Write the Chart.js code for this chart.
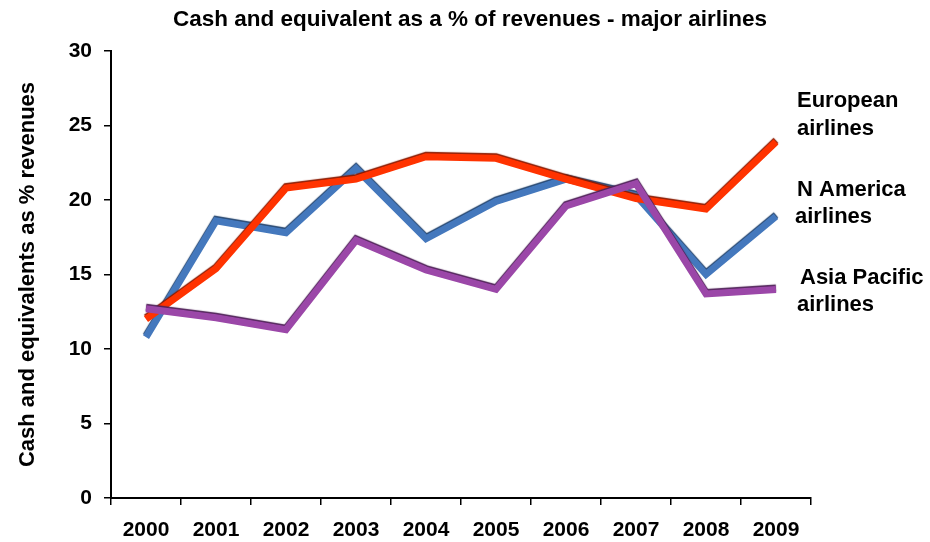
<!DOCTYPE html>
<html>
<head>
<meta charset="utf-8">
<script src="https://cdn.jsdelivr.net/npm/chart.js@4.4.1/dist/chart.umd.min.js"></script>
<style>
  html, body { margin: 0; padding: 0; background: #fff; }
  #wrap { width: 930px; height: 542px; }
</style>
</head>
<body>
<div id="wrap"><canvas id="airlineChart" width="930" height="542"></canvas></div>
<script>
const years = ['2000', '2001', '2002', '2003', '2004', '2005', '2006', '2007', '2008', '2009'];
const nAmerica = [10.8, 18.6, 17.8, 22.1, 17.4, 19.9, 21.4, 20.3, 15.0, 18.9];
const european = [12.0, 15.4, 20.8, 21.4, 22.9, 22.8, 21.4, 20.1, 19.4, 23.9];
const asiaPacific = [12.7, 12.1, 11.3, 17.3, 15.3, 14.0, 19.6, 21.1, 13.7, 14.0];
const yTicks = [0, 5, 10, 15, 20, 25, 30];

const FONT = "'Liberation Sans', Arial, sans-serif";
const TITLE = 'Cash and equivalent as a % of revenues - major airlines';

// excel-ish bevel: dark edge on top of each thick line
const edgePlugin = {
    id: 'edge',
    beforeDatasetDraw(chart, args) {
        const ds = chart.data.datasets[args.index];
        const ctx = chart.ctx;
        ctx.save();
        ctx.shadowColor = ds.edgeColor;
        ctx.shadowOffsetX = 0;
        ctx.shadowOffsetY = -1.5;
        ctx.shadowBlur = 1;
    },
    afterDatasetDraw(chart) {
        chart.ctx.restore();
    }
};

// title (centred like the original, not over the padded box) and series names at the right
const textPlugin = {
    id: 'texts',
    afterDraw(chart) {
        const ctx = chart.ctx;
        ctx.save();
        ctx.fillStyle = '#000';
        ctx.font = 'bold 22.5px ' + FONT;
        ctx.textBaseline = 'middle';
        ctx.textAlign = 'center';
        ctx.fillText(TITLE, 470, 20);

        ctx.font = 'bold 22px ' + FONT;
        ctx.textBaseline = 'alphabetic';
        ctx.textAlign = 'left';
        ctx.fillText('European', 797, 107);
        ctx.fillText('airlines', 797, 135);
        ctx.fillText('N America', 797, 196);
        ctx.fillText('airlines', 795, 223);
        ctx.fillText('Asia Pacific', 800, 284);
        ctx.fillText('airlines', 797, 311);
        ctx.restore();
    }
};

const ctx = document.getElementById('airlineChart').getContext('2d');
new Chart(ctx, {
    type: 'line',
    data: {
        labels: years,
        datasets: [
            {
                label: 'N America airlines',
                data: nAmerica,
                borderColor: '#4478BD',
                edgeColor: '#24456f',
                order: 2
            },
            {
                label: 'European airlines',
                data: european,
                borderColor: '#FF3300',
                edgeColor: '#8a1a00',
                order: 1
            },
            {
                label: 'Asia Pacific airlines',
                data: asiaPacific,
                borderColor: '#9B47A8',
                edgeColor: '#4e2057',
                order: 0
            }
        ]
    },
    options: {
        responsive: false,
        animation: false,
        layout: { padding: { left: 0, right: 119, top: 51, bottom: 0 } },
        elements: {
            line: { borderWidth: 7, tension: 0, borderJoinStyle: 'miter', fill: false },
            point: { radius: 0, hoverRadius: 0 }
        },
        scales: {
            x: {
                offset: true,
                grid: { offset: true, drawOnChartArea: false, color: '#000', tickLength: 7, lineWidth: 1.5 },
                border: { color: '#000', width: 2 },
                ticks: { color: '#000', padding: 13, font: { family: FONT, size: 21, weight: 'bold' } },
                afterFit(scale) { scale.height = 44; }
            },
            y: {
                min: 0,
                max: 30,
                afterBuildTicks(scale) { scale.ticks = yTicks.map(v => ({ value: v })); },
                grid: { drawOnChartArea: false, color: '#000', tickLength: 7, lineWidth: 1.5 },
                border: { color: '#000', width: 2 },
                ticks: { color: '#000', padding: 12, font: { family: FONT, size: 21, weight: 'bold' } },
                title: {
                    display: true,
                    text: 'Cash and equivalents as % revenues',
                    color: '#000',
                    padding: { top: 15, bottom: 4 },
                    font: { family: FONT, size: 22, weight: 'bold' }
                },
                afterFit(scale) { scale.width = 111; }
            }
        },
        plugins: {
            legend: { display: false },
            tooltip: { enabled: false },
            title: { display: false }
        }
    },
    plugins: [edgePlugin, textPlugin]
});
</script>
</body>
</html>
